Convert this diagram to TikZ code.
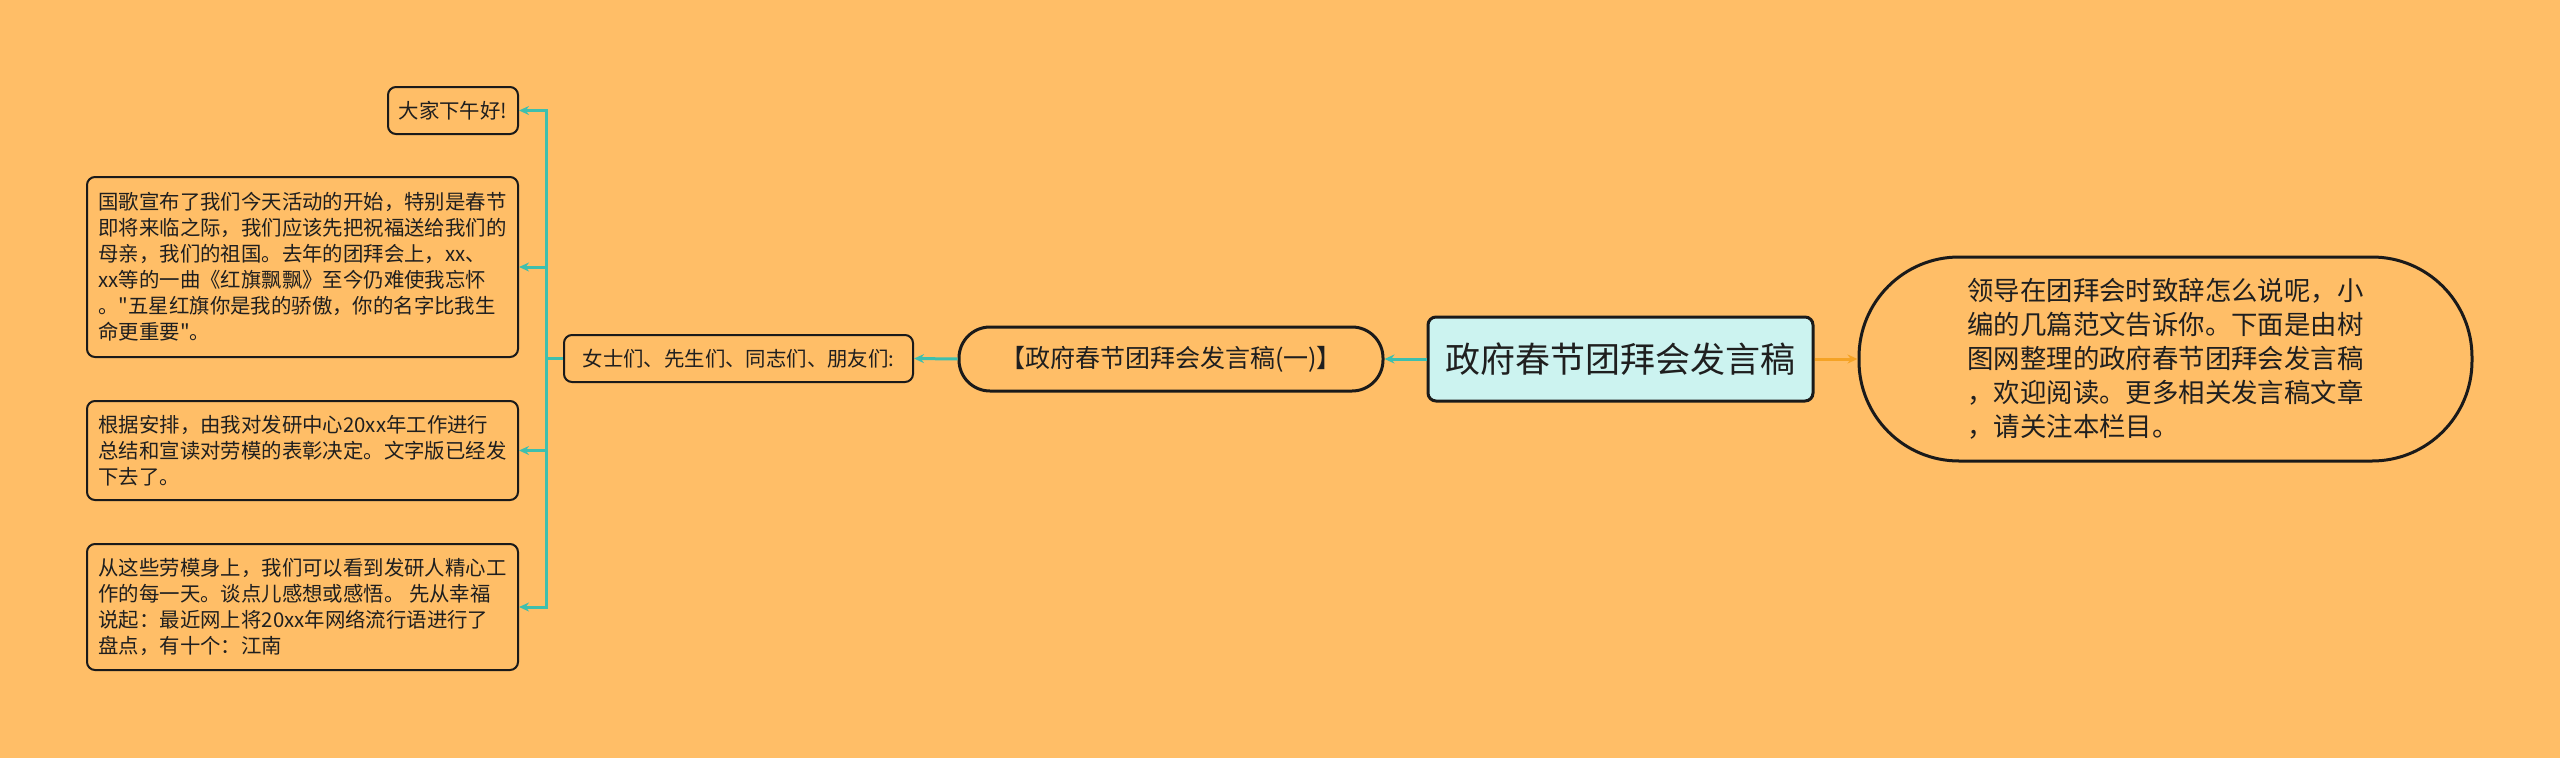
\documentclass[tikz,border=0pt]{standalone}
\usepackage{fontspec}
\setmainfont{Noto Sans CJK SC}[Ligatures=TeXOff]
\usetikzlibrary{arrows.meta}
\definecolor{bg}{HTML}{FFBE67}
\definecolor{tealc}{HTML}{3FBFAD}
\definecolor{orangec}{HTML}{F5A325}
\definecolor{mainfill}{HTML}{CCF3F0}
\definecolor{edge}{HTML}{1A1A1A}
\definecolor{txt}{HTML}{1F1F1F}
\tikzset{
  leaf/.style={draw=edge, line width=2pt, rounded corners=8pt, inner sep=0pt,
    align=left, text=txt, font=\fontsize{20.4}{26}\selectfont},
  pill/.style={draw=edge, line width=3pt, inner sep=0pt, align=left, text=txt},
  rootbox/.style={draw=edge, line width=3pt, rounded corners=8pt, fill=mainfill,
    inner sep=0pt, text=txt, font=\fontsize{35}{40}\selectfont},
  tconn/.style={draw=tealc, line width=3pt, -{Stealth[length=10pt,width=9pt]}},
  oconn/.style={draw=orangec, line width=3pt, -{Stealth[length=10pt,width=9pt]}},
}
\begin{document}
\begin{tikzpicture}[x=1pt,y=-1pt]
\fill[bg] (0,0) rectangle (2560,758);
\useasboundingbox (0,0) rectangle (2560,758);

\node[rootbox, minimum width=385pt, minimum height=84pt] (main) at (1620.5,359) {政府春节团拜会发言稿};

\node[pill, rounded corners=100pt, minimum width=613pt, minimum height=204pt,
  font=\fontsize{26.4}{34}\selectfont] (intro) at (2165.5,359)
  {领导在团拜会时致辞怎么说呢，小\\编的几篇范文告诉你。下面是由树\\图网整理的政府春节团拜会发言稿\\，欢迎阅读。更多相关发言稿文章\\，请关注本栏目。};

\node[pill, rounded corners=31pt, minimum width=424pt, minimum height=64pt,
  font=\fontsize{25}{30}\selectfont] (sub) at (1171,359) {【政府春节团拜会发言稿(一)】};

\node[leaf, minimum width=349pt, minimum height=47pt] (nvs) at (738.5,358.5) {女士们、先生们、同志们、朋友们:};

\node[leaf, minimum width=130pt, minimum height=47pt] (b1) at (453,110.5) {大家下午好!};
\node[leaf, minimum width=431pt, minimum height=180pt] (b2) at (302.5,267)
  {国歌宣布了我们今天活动的开始，特别是春节\\即将来临之际，我们应该先把祝福送给我们的\\母亲，我们的祖国。去年的团拜会上，xx、\\xx等的一曲《红旗飘飘》至今仍难使我忘怀\\。"五星红旗你是我的骄傲，你的名字比我生\\命更重要"。};
\node[leaf, minimum width=431pt, minimum height=99pt] (b3) at (302.5,450.5)
  {根据安排，由我对发研中心20xx年工作进行\\总结和宣读对劳模的表彰决定。文字版已经发\\下去了。};
\node[leaf, minimum width=431pt, minimum height=126pt] (b4) at (302.5,607)
  {从这些劳模身上，我们可以看到发研人精心工\\作的每一天。谈点儿感想或感悟。 先从幸福\\说起：最近网上将20xx年网络流行语进行了\\盘点，有十个：江南};

\draw[oconn] (main.east) -- (intro.west);
\draw[tconn] (main.west) -- (sub.east);
\draw[tconn] (sub.west) -- (nvs.east);
\draw[tconn] (nvs.west) -- ++(-17,0) |- (b1.east);
\draw[tconn] (nvs.west) -- ++(-17,0) |- (b2.east);
\draw[tconn] (nvs.west) -- ++(-17,0) |- (b3.east);
\draw[tconn] (nvs.west) -- ++(-17,0) |- (b4.east);
\end{tikzpicture}
\end{document}
